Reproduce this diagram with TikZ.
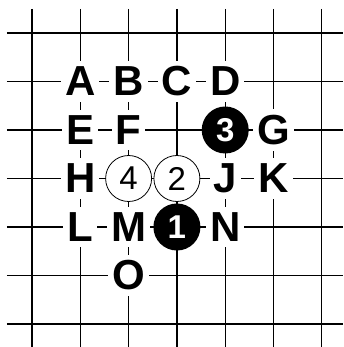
\documentclass[tikz,border=0pt]{standalone}
\usepackage{fontspec}
\newfontfamily\boardfont{Liberation Sans}
\usetikzlibrary{positioning}

\begin{document}
\begin{tikzpicture}[
    x=48.3pt, y=-48.5pt,
    gridline/.style={line width=1.3pt},
    letterlabel/.style={fill=white, inner xsep=4pt, inner ysep=6pt, font=\boardfont\bfseries\fontsize{42}{42}\selectfont},
    whitestone/.style={circle, draw, line width=0.8pt, fill=white, minimum size=46pt, inner sep=0pt, font=\boardfont\fontsize{33}{33}\selectfont},
    blackstone/.style={circle, fill=black, text=white, minimum size=47pt, inner sep=0pt, font=\boardfont\bfseries\fontsize{33}{33}\selectfont},
  ]
    \useasboundingbox (-0.6625,-0.680) rectangle (6.439,6.474);

    % board lines
    \foreach \i in {0,...,6} {
      \draw[gridline] (-0.518,\i) -- (6.439,\i);
      \draw[gridline] (\i,-0.495) -- (\i,6.474);
    }

    % lettered points
    \node[letterlabel] (A) at (1,1) {A};
    \node[letterlabel] (B) at (2,1) {B};
    \node[letterlabel] (C) at (3,1) {C};
    \node[letterlabel] (D) at (4,1) {D};
    \node[letterlabel] (E) at (1,2) {E};
    \node[letterlabel] (F) at (2,2) {F};
    \node[letterlabel] (G) at (5,2) {G};
    \node[letterlabel] (H) at (1,3) {H};
    \node[letterlabel] (J) at (4,3) {J};
    \node[letterlabel] (K) at (5,3) {K};
    \node[letterlabel] (L) at (1,4) {L};
    \node[letterlabel] (M) at (2,4) {M};
    \node[letterlabel] (N) at (4,4) {N};
    \node[letterlabel] (O) at (2,5) {O};

    % stones
    \node[blackstone] (s1) at (3,4) {1};
    \node[whitestone] (s2) at (3,3) {2};
    \node[blackstone] (s3) at (4,2) {3};
    \node[whitestone] (s4) at (2,3) {4};
\end{tikzpicture}
\end{document}
